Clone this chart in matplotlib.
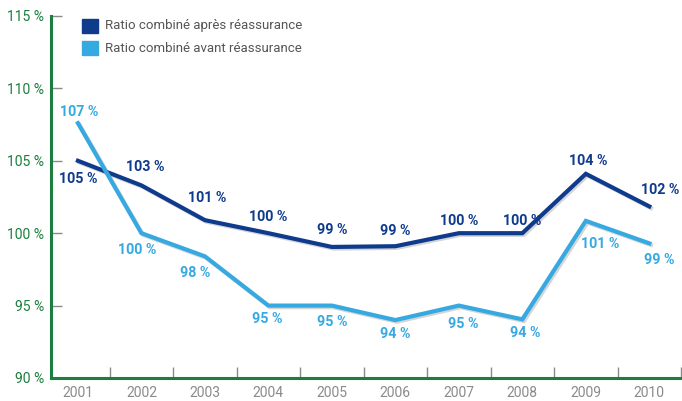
import matplotlib
matplotlib.use("Agg")
import matplotlib.pyplot as plt
import matplotlib.patheffects as pe
from matplotlib.patches import Rectangle

plt.rcParams['font.family'] = ['Roboto', 'DejaVu Sans']

years = ['2001', '2002', '2003', '2004', '2005', '2006', '2007', '2008', '2009', '2010']
apres = [105.0, 103.3, 100.9, 100.0, 99.05, 99.1, 100.0, 100.0, 104.1, 101.85]
avant = [107.6, 100.0, 98.4, 95.0, 95.0, 94.0, 95.0, 94.05, 100.85, 99.3]
apres_labels = ['105 %', '103 %', '101 %', '100 %', '99 %', '99 %', '100 %', '100 %', '104 %', '102 %']
avant_labels = ['107 %', '100 %', '98 %', '95 %', '95 %', '94 %', '95 %', '94 %', '101 %', '99 %']

# label offsets in points (dx, dy)
apres_off = [(0, -13), (3, 13), (2, 16), (0, 12), (0, 12), (0, 11), (0, 9), (0, 9), (2, 9), (8, 12)]
avant_off = [(1, 8), (-3, -12), (-7, -12), (-1, -10), (0, -12), (0, -10), (3, -13), (2, -10), (10, -17), (7, -12)]

dark = '#0e3b8c'
light = '#36a9e1'
green = '#1b7d3e'
grey = '#8a8a8a'

fig = plt.figure(figsize=(6.82, 4.01), dpi=100)
ax = fig.add_axes([0.0748, 0.0574, 0.9238, 0.9027])

x = list(range(len(years)))
shadow = [pe.SimpleLineShadow(offset=(1.2, -1.2), shadow_color='#888888', alpha=0.35), pe.Normal()]
ax.plot(x, apres, color=dark, lw=3, solid_joinstyle='miter', path_effects=shadow, zorder=3)
ax.plot(x, avant, color=light, lw=3, solid_joinstyle='miter', path_effects=shadow, zorder=3)

for i in x:
    ax.annotate(apres_labels[i], (i, apres[i]), xytext=apres_off[i], textcoords='offset points',
                ha='center', va='center', color=dark, fontsize=10.3, fontweight='bold')
    ax.annotate(avant_labels[i], (i, avant[i]), xytext=avant_off[i], textcoords='offset points',
                ha='center', va='center', color=light, fontsize=10.3, fontweight='bold')

ax.set_xlim(-0.424, 9.47)
ax.set_ylim(90, 115)
ax.set_yticks([90, 95, 100, 105, 110, 115])
ax.set_yticklabels(['90 %', '95 %', '100 %', '105 %', '110 %', '115 %'])
ax.set_xticks(x)
ax.set_xticklabels(years)
ax.set_xticks([i + 0.5 for i in x], minor=True)

for s in ['top', 'right']:
    ax.spines[s].set_visible(False)
for s in ['left', 'bottom']:
    ax.spines[s].set_color(green)
    ax.spines[s].set_linewidth(2.2)

ax.tick_params(axis='y', direction='in', length=8, width=1, color=grey, labelcolor=green,
               labelsize=10, pad=5)
ax.tick_params(axis='x', which='major', length=0, labelcolor=grey, labelsize=10, pad=6)
ax.tick_params(axis='x', which='minor', direction='in', length=8, width=1, color=grey)

# legend
fig.patches.append(Rectangle((82 / 682, 1 - 33 / 401), 16 / 682, 14 / 401, transform=fig.transFigure,
                             color=dark, figure=fig))
fig.patches.append(Rectangle((82 / 682, 1 - 55 / 401), 16 / 682, 14 / 401, transform=fig.transFigure,
                             color=light, figure=fig))
fig.text(105 / 682, 1 - 26 / 401, 'Ratio combiné après réassurance', color='#555555', fontsize=9.5, va='center')
fig.text(105 / 682, 1 - 48 / 401, 'Ratio combiné avant réassurance', color='#555555', fontsize=9.5, va='center')

fig.savefig('out.png', dpi=100)
